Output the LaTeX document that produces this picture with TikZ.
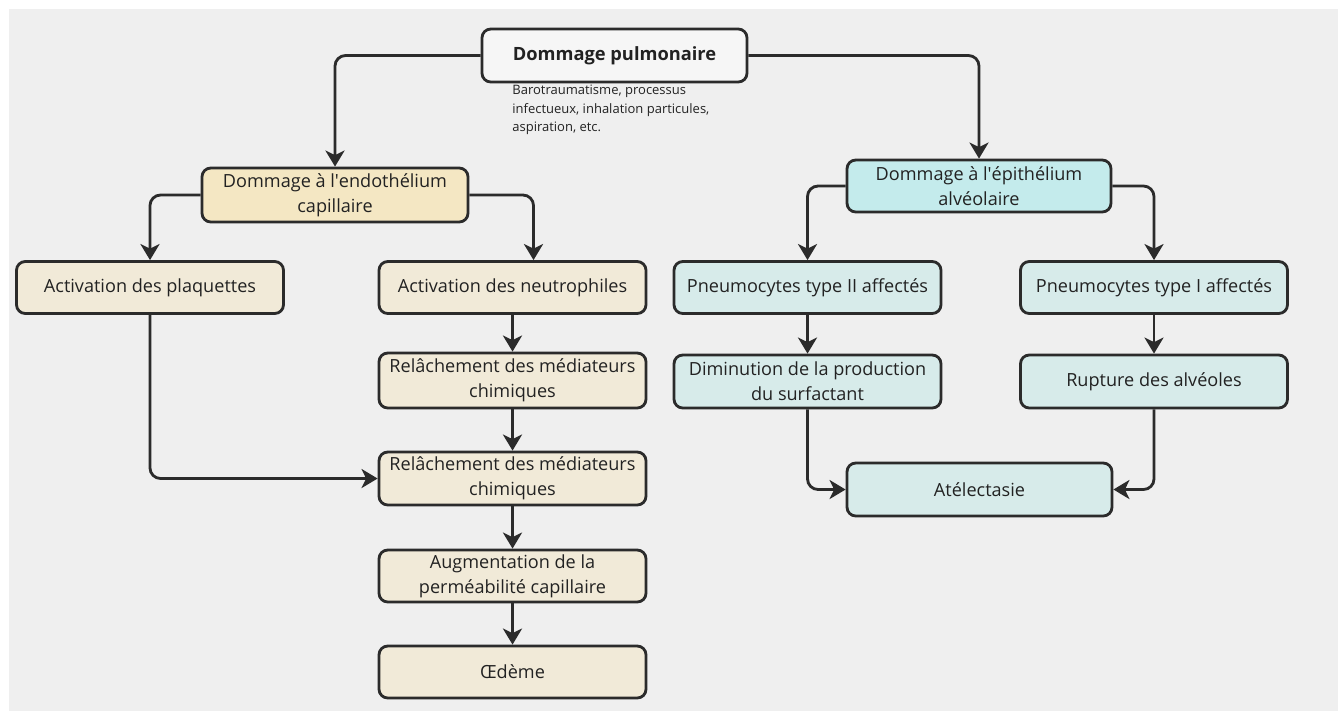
\documentclass[tikz,border=0pt]{standalone}
\usepackage{fontspec}
\setmainfont{Open Sans}
\usepackage{xcolor}
\usetikzlibrary{positioning,arrows.meta}
\definecolor{cCanvas}{HTML}{EFEFEF}
\definecolor{cEdge}{HTML}{2B2B2B}
\definecolor{cText}{HTML}{222222}
\definecolor{cTop}{HTML}{F6F6F6}
\definecolor{cEndo}{HTML}{F4E7C3}
\definecolor{cEndoLite}{HTML}{F1EAD8}
\definecolor{cEpi}{HTML}{C4EBEC}
\definecolor{cEpiLite}{HTML}{D7EBEA}
\tikzset{
  box/.style={draw=cEdge, line width=1.6pt, rounded corners=5pt, text=cText,
              align=center, inner sep=0pt, font=\fontsize{10.3}{14.3}\selectfont,
              minimum width=5.34cm, minimum height=1.04cm},
  boxEndo/.style={box, fill=cEndoLite},
  boxEpi/.style={box, fill=cEpiLite},
  flow/.style={-{Stealth[length=3.2mm, width=3.8mm, inset=0.9mm]},
               line width=1.6pt, draw=cEdge, rounded corners=6pt},
  note/.style={font=\fontsize{7.4}{10.5}\selectfont, text=cText, align=left,
               anchor=north west, inner sep=0pt},
}

\begin{document}
\begin{tikzpicture}

\useasboundingbox (0,0) rectangle (26.76,-14.22);
\fill[cCanvas] (0.18,-0.18) rectangle (26.76,-14.22);

% ========== TOP: LUNG DAMAGE ==========
\node[box, fill=cTop, minimum width=5.30cm, minimum height=1.06cm,
      font=\fontsize{10.4}{14}\selectfont\bfseries] (pulm) at (12.29,-1.11)
  {Dommage pulmonaire};
\node[note] (cause) at (10.24,-1.70)
  {Barotraumatisme, processus\\infectueux, inhalation particules,\\aspiration, etc.};

% ========== LEFT: ENDOTHELIUM ==========
\node[box, fill=cEndo, minimum width=5.32cm, minimum height=1.08cm] (endo) at (6.70,-3.90)
  {Dommage à l\textquotesingle endothélium\\capillaire};
\node[boxEndo] (plaq)   at (3.00,-5.75)  {Activation des plaquettes};
\node[boxEndo] (neutro) at (10.25,-5.75) {Activation des neutrophiles};
\node[boxEndo, minimum height=1.10cm] (relA) at (10.25,-7.61)
  {Relâchement des médiateurs\\chimiques};
\node[boxEndo, minimum height=1.06cm] (relB) at (10.25,-9.57)
  {Relâchement des médiateurs\\chimiques};
\node[boxEndo] (augm)   at (10.25,-11.52) {Augmentation de la\\perméabilité capillaire};
\node[boxEndo] (oedeme) at (10.25,-13.44) {Œdème};

% ========== RIGHT: EPITHELIUM ==========
\node[box, fill=cEpi, minimum width=5.28cm] (epi) at (19.58,-3.72)
  {Dommage à l\textquotesingle épithélium\\alvéolaire};
\node[boxEpi] (pnII)  at (16.15,-5.75) {Pneumocytes type II affectés};
\node[boxEpi] (pnI)   at (23.08,-5.75) {Pneumocytes type I affectés};
\node[boxEpi, minimum height=1.06cm] (dimin) at (16.15,-7.63)
  {Diminution de la production\\du surfactant};
\node[boxEpi, minimum height=1.06cm] (rupt)  at (23.08,-7.63) {Rupture des alvéoles};
\node[boxEpi, minimum width=5.30cm, minimum height=1.06cm] (atel) at (19.59,-9.79)
  {Atélectasie};

% ========== CONNECTORS ==========
\draw[flow] (pulm.west) -| (endo.north);
\draw[flow] (pulm.east) -| (epi.north);

\draw[flow] (endo.west) -| (plaq.north);
\draw[flow] (endo.east) -| ([xshift=0.42cm]neutro.north);
\draw[flow] (neutro) -- (relA);
\draw[flow] (relA)   -- (relB);
\draw[flow] (relB)   -- (augm);
\draw[flow] (augm)   -- (oedeme);
\draw[flow] (plaq.south) |- (relB.west);

\draw[flow] (epi.west) -| (pnII.north);
\draw[flow] (epi.east) -| (pnI.north);
\draw[flow] (pnII) -- (dimin);
\draw[flow] (pnI)  -- (rupt);
\draw[flow] (dimin.south) |- (atel.west);
\draw[flow] (rupt.south)  |- (atel.east);

\end{tikzpicture}
\end{document}
